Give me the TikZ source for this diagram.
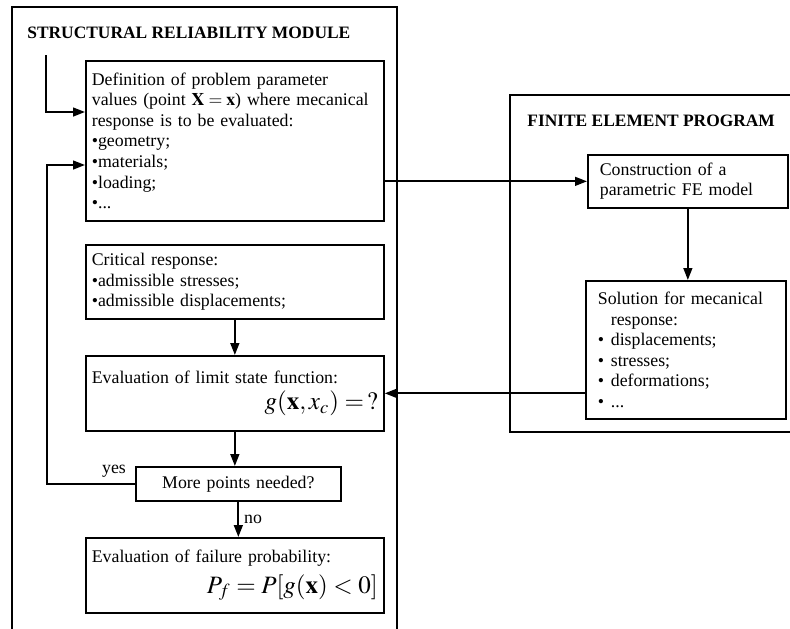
\documentclass[tikz,border=0pt]{standalone}
\usepackage{mathptmx}
\usepackage[no-math]{fontspec}
\setmainfont{Liberation Serif}
\usetikzlibrary{arrows.meta, positioning}
\tikzset{
  frame/.style={draw=black, line width=0.8pt},
  title/.style={font=\fontsize{8.7}{10}\selectfont\bfseries, anchor=west, inner sep=0pt},
  block/.style={rectangle, draw=black, line width=0.85pt, anchor=north west, align=left,
                font=\fontsize{8.9}{10.25}\selectfont, inner xsep=3pt, inner ysep=2pt,
                text width=#1},
  flow/.style={-{Triangle[length=6pt,width=4.4pt]}, line width=1pt},
  lbl/.style={font=\fontsize{8.9}{10}\selectfont, inner sep=0pt},
}

\begin{document}
\begin{tikzpicture}[x=0.5pt, y=-0.5pt]
  \clip (0,0) rectangle (790,628);
  % the two program frames, cut off by the page
  \draw[frame] (12,7) rectangle (397,660);
  \draw[frame] (510,95) rectangle (820,432);
  \node[title] (srm) at (27,33) {STRUCTURAL RELIABILITY MODULE};
  \node[title] (fep) at (527,121) {FINITE ELEMENT PROGRAM};

  % reliability module
  \node[block=143pt, minimum height=80pt] (def) at (85,60)
    {Definition of problem parameter\\ values (point $\mathbf{X}=\mathbf{x}$) where mecanical\\
     response is to be evaluated:\\ •geometry;\\ •materials;\\ •loading;\\ •...};
  \node[block=143pt, minimum height=37pt] (crit) at (85,244)
    {Critical response:\\ •admissible stresses;\\ •admissible displacements;};
  \node[block=143pt, minimum height=37.5pt] (lsf) at (85,355)
    {Evaluation of limit state function:\\[3pt]
     \hfill{\fontsize{12.5}{14}\selectfont $g(\mathbf{x},x_c)=\,?$}\hspace*{4pt}};
  \node[block=96.5pt, minimum height=17pt, align=center] (more) at (135,466) {More points needed?};
  \node[block=143pt, minimum height=37.5pt] (fail) at (85,537)
    {Evaluation of failure probability:\\[3pt]
     \hfill{\fontsize{12.5}{14}\selectfont $P_f=P[g(\mathbf{x})<0]$}\hspace*{4pt}};
  \node[lbl] (yes) at (114,471) {yes};
  \node[lbl] (no) at (253,519) {no};

  % finite element program
  \node[block=88pt, inner xsep=6pt, minimum height=26.5pt] (fem) at (587,154)
    {Construction of a\\ parametric FE model};
  \node[block=88pt, inner xsep=6pt, minimum height=69pt] (sol) at (585,280)
    {Solution for mecanical\\ \hspace*{6.5pt}response:\\
     \makebox[6.5pt][l]{•}displacements;\\ \makebox[6.5pt][l]{•}stresses;\\
     \makebox[6.5pt][l]{•}deformations;\\ \makebox[6.5pt][l]{•}...};

  % connectors
  \coordinate (start) at (46,55);
  \coordinate (entry) at (46,112);
  \coordinate (back) at (47,165);
  \draw[flow] (start) -- (entry) -- (def.west |- entry);
  \draw[flow] (more.west) -| (back) -- (def.west |- back);
  \draw[flow] (def.east |- fem.west) -- (fem.west);
  \draw[flow] (sol.west |- lsf.east) -- (lsf.east);
  \foreach \a/\b in {crit/lsf, lsf/more, more/fail, fem/sol}{
    \draw[flow] (\a.south) -- (\a.south |- \b.north);
  }
\end{tikzpicture}
\end{document}
